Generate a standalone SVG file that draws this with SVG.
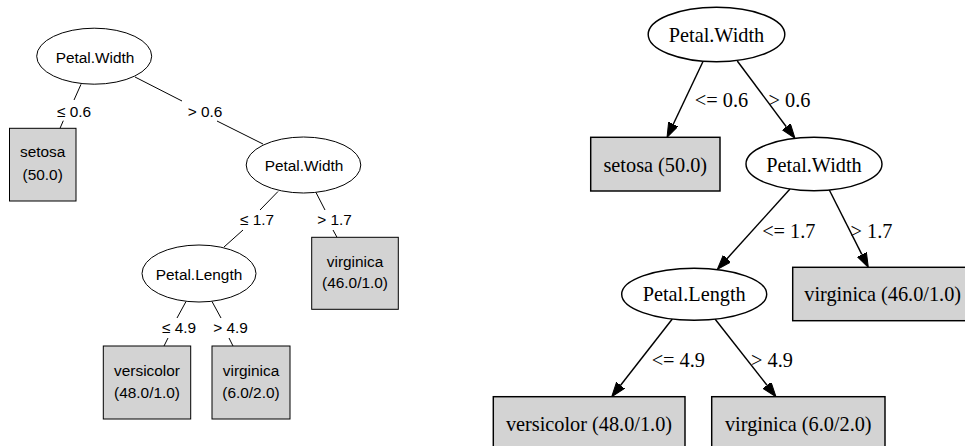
<svg xmlns="http://www.w3.org/2000/svg" width="965" height="446" viewBox="0 0 965 446">
<style>
.bg{fill:#ffffff}
.ln{stroke:#000;stroke-width:1;fill:none}
.en{fill:#fff;stroke:#000;stroke-width:1}
.bx{fill:#d3d3d3;stroke:#000;stroke-width:1}
.t1{font-family:"Liberation Sans",Arial,sans-serif;font-size:15.4px;fill:#000;text-anchor:middle}
.ln2{stroke:#000;stroke-width:1.45;fill:none}
.en2{fill:#fff;stroke:#000;stroke-width:1.45}
.bx2{fill:#d3d3d3;stroke:#000;stroke-width:1.45}
.t2{font-family:"Liberation Serif","Times New Roman",serif;font-size:20.3px;fill:#000;text-anchor:middle}
</style>
<defs>
<marker id="ah" markerUnits="userSpaceOnUse" markerWidth="16" markerHeight="12" refX="0" refY="5.1" orient="auto">
<path d="M0,0 L14.5,5.1 L0,10.2 Z" fill="#000" stroke="#000" stroke-width="1"/>
</marker>
</defs>
<rect class="bg" x="0" y="0" width="965" height="446"/>

<g id="left-edges">
<line class="ln" x1="81" y1="84.3" x2="74" y2="100"/>
<line class="ln" x1="63.3" y1="120.7" x2="60" y2="128.3"/>
<line class="ln" x1="135" y1="77" x2="182" y2="101"/>
<line class="ln" x1="217" y1="121" x2="263" y2="144"/>
<line class="ln" x1="278" y1="191.5" x2="260" y2="210"/>
<line class="ln" x1="243" y1="230" x2="224" y2="247"/>
<line class="ln" x1="316" y1="192.5" x2="325" y2="210"/>
<line class="ln" x1="333" y1="230" x2="337" y2="237.3"/>
<line class="ln" x1="186" y1="301.5" x2="177" y2="318"/>
<line class="ln" x1="168" y1="338" x2="164" y2="346"/>
<line class="ln" x1="212" y1="301.5" x2="221" y2="318"/>
<line class="ln" x1="229" y1="338" x2="233" y2="346"/>
<text class="t1" x="74" y="116.7">≤ 0.6</text>
<text class="t1" x="205" y="116.7">&gt; 0.6</text>
<text class="t1" x="257" y="225">≤ 1.7</text>
<text class="t1" x="334.5" y="225">&gt; 1.7</text>
<text class="t1" x="179" y="333.3">≤ 4.9</text>
<text class="t1" x="230.5" y="333.3">&gt; 4.9</text>
</g>

<g id="L1">
<ellipse class="en" cx="94.2" cy="56.2" rx="57.5" ry="28"/>
<text class="t1" x="95" y="62.5">Petal.Width</text>
</g>
<g id="L2">
<rect class="bx" x="9.5" y="128.3" width="66.5" height="72.7"/>
<text class="t1" x="42.7" y="157.3">setosa</text>
<text class="t1" x="42.7" y="180">(50.0)</text>
</g>
<g id="L3">
<ellipse class="en" cx="303.5" cy="165" rx="57.3" ry="28"/>
<text class="t1" x="304" y="170.7">Petal.Width</text>
</g>
<g id="L4">
<ellipse class="en" cx="199" cy="273.5" rx="57" ry="28.5"/>
<text class="t1" x="199" y="279.5">Petal.Length</text>
</g>
<g id="L5">
<rect class="bx" x="311.7" y="237.3" width="86.6" height="72"/>
<text class="t1" x="355" y="266.7">virginica</text>
<text class="t1" x="355" y="288.3">(46.0/1.0)</text>
</g>
<g id="L6">
<rect class="bx" x="103.3" y="346" width="87.4" height="73"/>
<text class="t1" x="147" y="375.7">versicolor</text>
<text class="t1" x="147" y="398.3">(48.0/1.0)</text>
</g>
<g id="L7">
<rect class="bx" x="212" y="346" width="78" height="73"/>
<text class="t1" x="251" y="375.7">virginica</text>
<text class="t1" x="251" y="398.3">(6.0/2.0)</text>
</g>

<g id="right-edges">
<line class="ln2" x1="703" y1="61.5" x2="673.25" y2="124.2" marker-end="url(#ah)"/>
<line class="ln2" x1="737.3" y1="61" x2="786.3" y2="126.7" marker-end="url(#ah)"/>
<line class="ln2" x1="790" y1="189" x2="727" y2="258.7" marker-end="url(#ah)"/>
<line class="ln2" x1="829.3" y1="190" x2="861.8" y2="254.4" marker-end="url(#ah)"/>
<line class="ln2" x1="672.3" y1="319" x2="620.6" y2="385.3" marker-end="url(#ah)"/>
<line class="ln2" x1="715" y1="319" x2="767.05" y2="385.3" marker-end="url(#ah)"/>
<text class="t2" x="721.5" y="107.3">&lt;= 0.6</text>
<text class="t2" x="789.5" y="107.3">&gt; 0.6</text>
<text class="t2" x="788.8" y="237.7">&lt;= 1.7</text>
<text class="t2" x="871.5" y="237.7">&gt; 1.7</text>
<text class="t2" x="678.3" y="366.7">&lt;= 4.9</text>
<text class="t2" x="772" y="366.7">&gt; 4.9</text>
</g>

<g id="R1">
<ellipse class="en2" cx="716.5" cy="34.5" rx="68.3" ry="27.2"/>
<text class="t2" x="716.5" y="42">Petal.Width</text>
</g>
<g id="R2">
<rect class="bx2" x="590.7" y="137.3" width="129.3" height="53.7"/>
<text class="t2" x="655.3" y="172">setosa (50.0)</text>
</g>
<g id="R3">
<ellipse class="en2" cx="814" cy="164" rx="68" ry="26.7"/>
<text class="t2" x="814" y="171.5">Petal.Width</text>
</g>
<g id="R4">
<ellipse class="en2" cx="694.2" cy="294.2" rx="72.5" ry="26"/>
<text class="t2" x="694.2" y="301.3">Petal.Length</text>
</g>
<g id="R5">
<rect class="bx2" x="792.7" y="267.3" width="180" height="53.4"/>
<text class="t2" x="882.7" y="300.5">virginica (46.0/1.0)</text>
</g>
<g id="R6">
<rect class="bx2" x="493.3" y="396.7" width="191.7" height="54"/>
<text class="t2" x="589" y="430.7">versicolor (48.0/1.0)</text>
</g>
<g id="R7">
<rect class="bx2" x="711.7" y="396.7" width="173.3" height="54"/>
<text class="t2" x="798.3" y="430.7">virginica (6.0/2.0)</text>
</g>
</svg>
